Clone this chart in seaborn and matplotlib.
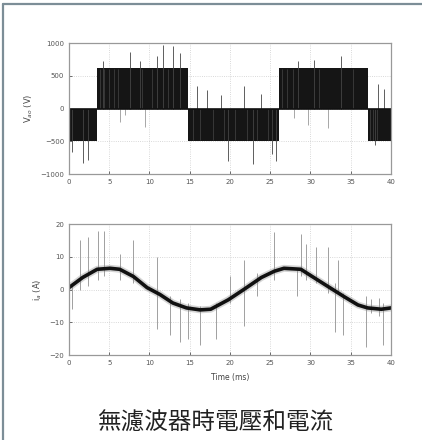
import numpy as np
import seaborn as sns
import matplotlib.pyplot as plt
from matplotlib.lines import Line2D

# Phase voltage: switching blocks between 0 and a level.
v_edges = [0, 3.5, 14.8, 26.1, 37.1, 40]
v_levels = [-500, 620, -500, 620, -500]
# Overshoot spikes (time in ms, peak in V).
v_spike_t = [0.4, 1.7, 2.4, 4.2, 7.6, 8.8, 10.9, 11.7, 12.9, 13.8,
             15.9, 17.1, 18.9, 21.7, 23.9, 19.8, 22.9, 25.7, 25.2,
             28.4, 30.4, 33.8, 38.4, 39.1, 38.0]
v_spike_v = [-670, -830, -780, 720, 870, 720, 800, 970, 950, 850,
             340, 280, 200, 340, 220, -800, -850, -800, -700,
             720, 740, 800, 380, 300, -560]
# Spikes going the other way during positive blocks.
v_dip_t = [6.3, 7.0, 9.4, 28.0, 29.7, 32.2]
v_dip_v = [-200, -100, -280, -150, -250, -300]
# Lighter streaks inside the dark blocks.
v_gap_t = [3.9, 4.4, 5.0, 5.6, 6.1, 9.1, 10.3, 12.3, 15.4, 16.3, 17.9,
           19.2, 20.6, 22.1, 23.4, 24.7, 26.5, 27.1, 27.8, 31.1, 35.3,
           37.4, 37.8, 38.3]

# Phase current: fundamental.
i_t = [0, 1.7, 3.5, 5.1, 6.3, 8.0, 9.7, 11.3, 12.9, 14.6, 16.3, 17.6, 19.8,
       21.7, 23.9, 25.5, 26.7, 28.8, 30.4, 32.2, 34.2, 35.9, 37.1, 38.8, 40]
i_a = [0.6, 3.7, 6.2, 6.5, 6.2, 4.0, 0.6, -1.5, -4.1, -5.6, -6.2, -6.0, -3.1,
       0.0, 3.7, 5.6, 6.5, 6.2, 3.7, 0.9, -2.2, -4.7, -5.6, -6.0, -5.6]
# Ripple spikes (time, low, high).
i_spike_t = [0.4, 1.4, 2.4, 3.6, 4.4, 6.3, 8.0, 10.9, 12.5, 13.8, 14.8, 16.3,
             18.3, 20.0, 21.7, 23.3, 25.5, 28.3, 28.8, 29.5, 30.7, 32.2, 33.0,
             33.4, 34.0, 36.9, 37.5, 38.5, 39.0]
i_spike_lo = [-6, 0, 1, 3, 4, 3, 2, -12, -14, -16, -15, -17,
              -15, -4, -11, -2, 3, -2, 4, 3, 2, -1, -13,
              -1, -14, -17.5, -7, -8, -17]
i_spike_hi = [2, 15, 16, 18, 18, 11, 15, 10, -2, -3, -4, -5,
              -4, 4, 9, 5, 17.5, 6, 17, 14, 13, 13, 2,
              9, -1, -2, -3, -2.5, -4]

sns.set_theme(style="ticks")
plt.rcParams['font.family'] = ['DejaVu Sans']

fig = plt.figure(figsize=(4.22, 4.4), dpi=100)
ax1 = fig.add_axes([0.1635, 0.6045, 0.763, 0.2977])
ax2 = fig.add_axes([0.1635, 0.193, 0.763, 0.2977])

# upper panel
t_step = np.repeat(v_edges, 2)[1:-1]
v_step = np.repeat(v_levels, 2)
ax1.fill_between(t_step, 0, v_step, color='#151515', lw=0)
ax1.vlines(v_gap_t, 0, [v_levels[np.searchsorted(v_edges, t) - 1] * 0.97 for t in v_gap_t],
           color='#666666', lw=0.6, alpha=0.5)
ax1.vlines(v_spike_t, 0, v_spike_v, color='#444444', lw=0.6)
ax1.vlines(v_dip_t, 0, v_dip_v, color='#999999', lw=0.6)
ax1.axhline(0, color='#111111', lw=1.2)
ax1.set_ylim(-1000, 1000)
ax1.set_yticks([-1000, -500, 0, 500, 1000])
ax1.set_ylabel('V$_{ao}$ (V)', fontsize=6, color='#444444', labelpad=4)

# lower panel
ax2.vlines(i_spike_t, i_spike_lo, i_spike_hi, color='#a0a0a0', lw=0.7)
sns.lineplot(x=i_t, y=i_a, ax=ax2, color='#888888', lw=5, alpha=0.35)
sns.lineplot(x=i_t, y=i_a, ax=ax2, color='#111111', lw=2.6)
ax2.set_ylim(-20, 20)
ax2.set_yticks([-20, -10, 0, 10, 20])
ax2.set_ylabel('i$_a$ (A)', fontsize=6, color='#444444', labelpad=4)
ax2.set_xlabel('Time (ms)', fontsize=5.5, color='#444444', labelpad=5)

for ax in (ax1, ax2):
    ax.set_xlim(0, 40)
    ax.set_xticks(range(0, 41, 5))
    ax.grid(True, linestyle=':', color='#cccccc', lw=0.6)
    ax.tick_params(labelsize=5, colors='#555555', length=2, direction='in', width=0.6)
    for s in ax.spines.values():
        s.set_visible(True)
        s.set_color('#999999')
        s.set_linewidth(0.9)

fig.text(0.51, 0.039, '無濾波器時電壓和電流', ha='center', va='center',
         fontsize=17, color='#222222', family=['Noto Sans CJK TC', 'DejaVu Sans'])

# page frame (top and left edges)
fig.add_artist(Line2D([3 / 422, 1], [1 - 4 / 440, 1 - 4 / 440], color='#7c8e97', lw=1.6))
fig.add_artist(Line2D([3 / 422, 3 / 422], [0, 1 - 4 / 440], color='#7c8e97', lw=1.6))

fig.savefig('out.png', dpi=100, facecolor='white')
